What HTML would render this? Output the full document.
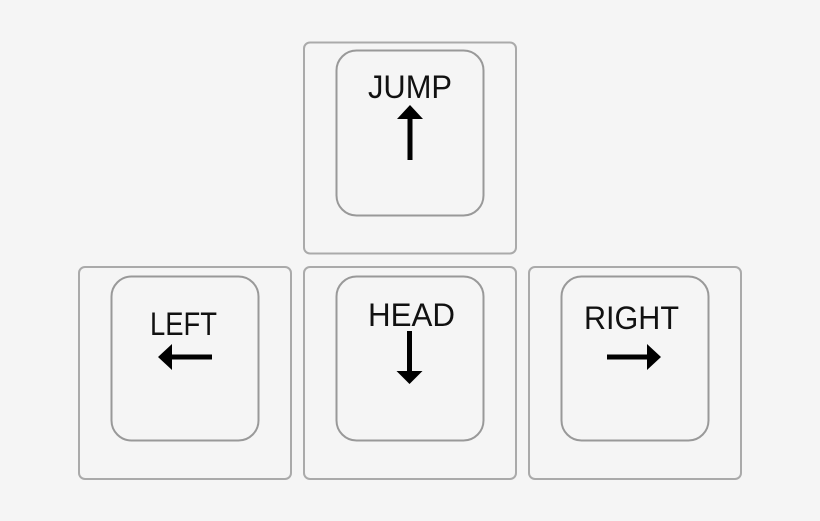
<!DOCTYPE html>
<html><head><meta charset="utf-8"><style>
html,body{margin:0;padding:0;background:#f5f5f5;}
svg{display:block;}
text{font-family:"Liberation Sans",sans-serif;font-size:32px;fill:#111;}
</style></head><body>
<svg width="820" height="521" viewBox="0 0 820 521">
<rect width="820" height="521" fill="#f5f5f5"/>
<g>
<rect x="304" y="42.5" width="212" height="211" rx="6" fill="#f5f5f5" stroke="#aaa" stroke-width="2"/>
<rect x="336.5" y="50.5" width="147" height="165" rx="20" fill="#f5f5f5" stroke="#999" stroke-width="2"/>
<text x="368" y="98" textLength="84" lengthAdjust="spacingAndGlyphs">JUMP</text>
<path d="M407.5 160 V119 H397 L410 105 L423 119 H412.5 V160 Z" fill="#000"/>
</g>
<g>
<rect x="79" y="267" width="212" height="212" rx="6" fill="#f5f5f5" stroke="#aaa" stroke-width="2"/>
<rect x="111.5" y="276.5" width="147" height="164" rx="20" fill="#f5f5f5" stroke="#999" stroke-width="2"/>
<text x="150" y="335" textLength="67" lengthAdjust="spacingAndGlyphs">LEFT</text>
<path d="M212 354.5 H172 V344 L158 357 L172 370 V359.5 H212 Z" fill="#000"/>
</g>
<g>
<rect x="304" y="267" width="212" height="212" rx="6" fill="#f5f5f5" stroke="#aaa" stroke-width="2"/>
<rect x="336.5" y="276.5" width="147" height="164" rx="20" fill="#f5f5f5" stroke="#999" stroke-width="2"/>
<text x="368" y="326" textLength="87" lengthAdjust="spacingAndGlyphs">HEAD</text>
<path d="M407 331 V371 H396.5 L409.5 384 L422.5 371 H412 V331 Z" fill="#000"/>
</g>
<g>
<rect x="529" y="267" width="212" height="212" rx="6" fill="#f5f5f5" stroke="#aaa" stroke-width="2"/>
<rect x="561.5" y="276.5" width="147" height="164" rx="20" fill="#f5f5f5" stroke="#999" stroke-width="2"/>
<text x="584" y="329" textLength="95" lengthAdjust="spacingAndGlyphs">RIGHT</text>
<path d="M607 354.5 H647 V344 L661 357 L647 370 V359.5 H607 Z" fill="#000"/>
</g>
</svg>
</body></html>
